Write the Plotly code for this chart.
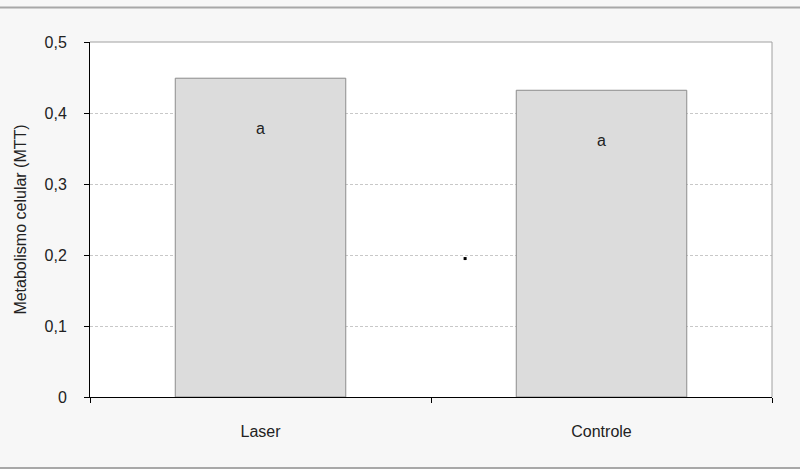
import plotly.graph_objects as go

categories = ["Laser", "Controle"]
values = [0.449, 0.432]
labels = ["a", "a"]
dot_x = [0.6]
dot_y = [0.195]
y_ticks = [0, 0.1, 0.2, 0.3, 0.4, 0.5]
y_ticktext = ["0", "0,1", "0,2", "0,3", "0,4", "0,5"]

font = "Liberation Sans, Arial, sans-serif"

fig = go.Figure()
fig.add_trace(go.Bar(
    x=categories, y=values, width=0.5,
    marker=dict(color="#dcdcdc", line=dict(color="#8c8c8c", width=1)),
    showlegend=False, hoverinfo="skip",
))
fig.add_trace(go.Scatter(
    x=dot_x, y=dot_y, xaxis="x2", mode="markers",
    marker=dict(symbol="square", size=3, color="#000000", line=dict(width=0)),
    showlegend=False, hoverinfo="skip",
))
for c, v, t in zip(categories, values, labels):
    fig.add_annotation(x=c, y=v, text=t, showarrow=False, yshift=-50,
                       font=dict(family=font, size=16, color="#222222"))

fig.update_layout(
    width=800, height=469,
    margin=dict(l=90, r=28, t=42, b=72),
    paper_bgcolor="#f7f7f7", plot_bgcolor="#ffffff",
    font=dict(family=font, size=15, color="#222222"),
    bargap=0.5,
    xaxis=dict(
        type="category", tickson="boundaries", ticks="outside", ticklen=5,
        tickcolor="#000000", showline=True, linecolor="#000000", linewidth=1,
        showgrid=False, range=[-0.5, 1.5], ticklabelstandoff=20,
        tickfont=dict(size=16),
    ),
    xaxis2=dict(overlaying="x", range=[-0.5, 1.5], visible=False),
    yaxis=dict(
        range=[0, 0.5], tickvals=y_ticks, ticktext=y_ticktext,
        ticks="outside", ticklen=5, tickcolor="#000000",
        showline=True, linecolor="#000000", linewidth=1,
        showgrid=True, gridcolor="#c8c8c8", griddash="3px,2px", gridwidth=1,
        zeroline=False, ticklabelstandoff=14, tickfont=dict(size=16),
        title=dict(text="Metabolismo celular (MTT)", standoff=13,
                   font=dict(size=16)),
    ),
    shapes=[
        dict(type="line", xref="paper", yref="paper", x0=0, x1=1, y0=1, y1=1,
             line=dict(color="#a0a0a0", width=1)),
        dict(type="line", xref="paper", yref="paper", x0=1, x1=1, y0=0, y1=1,
             line=dict(color="#a0a0a0", width=1)),
        dict(type="line", xref="paper", yref="paper", x0=-0.14, x1=1.05,
             y0=1.097, y1=1.097, line=dict(color="#a8a8a8", width=2)),
        dict(type="line", xref="paper", yref="paper", x0=-0.14, x1=1.05,
             y0=-0.2, y1=-0.2, line=dict(color="#a8a8a8", width=2)),
    ],
)

fig.write_html("out.html", config={"displayModeBar": False},
               post_script="document.body.style.margin='0';")
